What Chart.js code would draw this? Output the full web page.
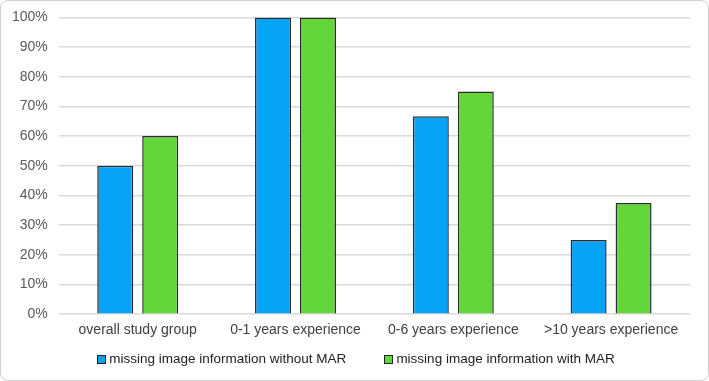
<!DOCTYPE html>
<html>
<head>
<meta charset="utf-8">
<script src="https://cdn.jsdelivr.net/npm/chart.js@4/dist/chart.umd.min.js"></script>
<style>
	body { margin: 0; background: #fff; }
	#wrap {
		width: 709px;
		height: 381px;
		box-sizing: border-box;
		border: 1px solid #cfcfcf;
		border-radius: 8px;
		position: relative;
		overflow: hidden;
		font-family: "Liberation Sans", Arial, Helvetica, sans-serif;
	}
	#inner {
		position: absolute;
		top: -3px;
		left: 0;
		right: 0;
		bottom: 0;
	}
	#legend {
		position: absolute;
		left: 3px;
		right: 0;
		top: 350px;
		display: flex;
		justify-content: center;
		gap: 38px;
		font-size: 13.5px;
		line-height: 16px;
		color: #222;
	}
	#legend .item { display: flex; align-items: center; gap: 3px; }
	#legend .box { width: 7px; height: 7px; border: 1px solid #222; }
</style>
</head>
<body>
<div id="wrap">
	<div id="inner"><canvas id="mar-bar-chart"></canvas></div>
	<div id="legend"></div>
</div>
<script>
const categories = ['overall study group', '0-1 years experience', '0-6 years experience', '>10 years experience'];
const withoutMar = [50, 100, 66.7, 25];
const withMar = [60, 100, 75, 37.5];
const seriesNames = ['missing image information without MAR', 'missing image information with MAR'];
const seriesColors = ['#07A3F7', '#63D63A'];
const yTicks = [0, 10, 20, 30, 40, 50, 60, 70, 80, 90, 100];

document.addEventListener('DOMContentLoaded', (event) => {
	marBarChart();
});

function marBarChart() {
	const ctx = document.getElementById('mar-bar-chart');

	if (!ctx) {
		return;
	}

	Chart.defaults.font.family = '"Liberation Sans", Arial, Helvetica, sans-serif';

	const chart = new Chart(ctx, {
		type: 'bar',
		data: {
			labels: categories,
			datasets: [
				{
					label: seriesNames[0],
					data: withoutMar,
					backgroundColor: seriesColors[0],
					borderColor: '#2b2b2b',
					borderWidth: 1.5,
				},
				{
					label: seriesNames[1],
					data: withMar,
					backgroundColor: seriesColors[1],
					borderColor: '#2b2b2b',
					borderWidth: 1.5,
				},
			],
		},
		options: {
			responsive: true,
			maintainAspectRatio: false,
			animation: false,
			layout: {
				padding: { top: 1, right: 18, left: 0, bottom: 41 },
			},
			datasets: {
				bar: {
					categoryPercentage: 0.57,
					barPercentage: 0.8,
				},
			},
			plugins: {
				legend: { display: false },
				tooltip: { enabled: false },
			},
			scales: {
				y: {
					min: 0,
					max: 100,
					afterBuildTicks: (axis) => {
						axis.ticks = yTicks.map((v) => ({ value: v }));
					},
					ticks: {
						callback: (v) => v + '%',
						color: '#595959',
						font: { size: 14 },
						padding: 11,
					},
					grid: {
						color: '#d9d9d9',
						lineWidth: 1.5,
						drawTicks: false,
					},
					border: { display: false },
				},
				x: {
					ticks: {
						color: '#404040',
						font: { size: 14 },
						padding: 0,
					},
					grid: { display: false },
					border: { display: false },
				},
			},
		},
	});

	// legend as html, built from the datasets
	const legend = document.getElementById('legend');
	chart.data.datasets.forEach((ds) => {
		const item = document.createElement('span');
		item.className = 'item';
		const box = document.createElement('span');
		box.className = 'box';
		box.style.background = ds.backgroundColor;
		const text = document.createElement('span');
		text.textContent = ds.label;
		item.appendChild(box);
		item.appendChild(text);
		legend.appendChild(item);
	});
}
</script>
</body>
</html>
